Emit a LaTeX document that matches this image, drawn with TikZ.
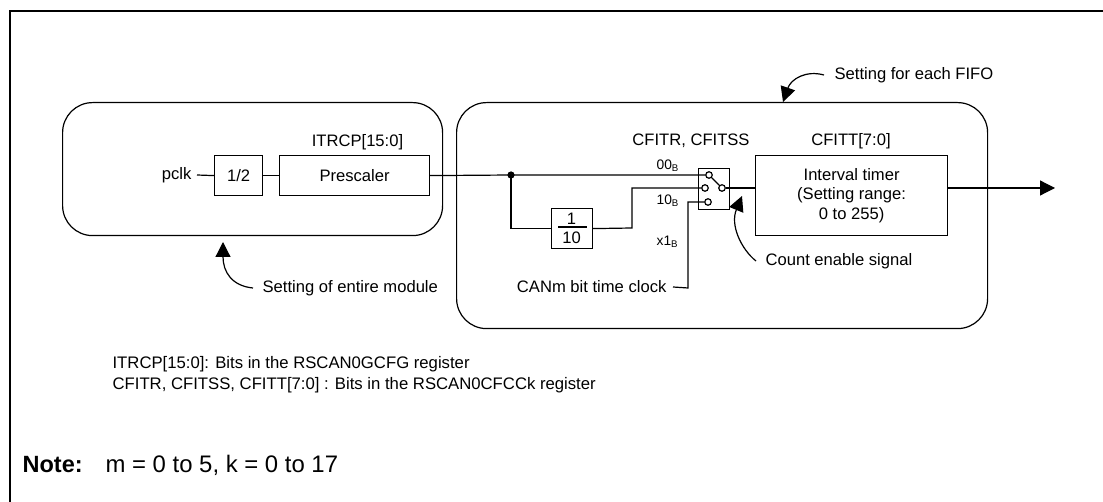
\documentclass[tikz,border=0pt]{standalone}
\usepackage{fontspec}
\setmainfont{Liberation Sans}
\usetikzlibrary{arrows.meta}
\tikzset{every picture/.style={line width=1.2pt}}
\tikzset{
  blob/.style={draw,rounded corners=30,inner sep=0pt},
  block/.style={draw,inner sep=0pt,align=center,font=\fontsize{16.6}{19.6}\selectfont},
  lbl/.style={inner sep=0pt,align=center,font=\fontsize{16.6}{19.6}\selectfont},
  sel/.style={inner sep=0pt,font=\fontsize{13.8}{16}\selectfont},
  notes/.style={inner sep=0pt,font=\fontsize{16.7}{20}\selectfont},
  contact/.style={draw,circle,fill=white,inner sep=0pt,minimum size=6.5pt},
  pointer/.style={-{Triangle[length=15pt,width=15pt]}},
}

\begin{document}
\begin{tikzpicture}[x=1pt,y=1pt,yscale=-1,xscale=1]
\useasboundingbox (0,0) rectangle (1103,502);

% Frame
\draw [line width=2.2pt] (10,502) -- (10,11) -- (1103,11) ;

% Rounded areas
\node (module) [blob,anchor=north west,minimum width=380pt,minimum height=133pt] at (62,102) {};
\node (fifo) [blob,anchor=north west,minimum width=531pt,minimum height=226pt] at (456,102) {};

% Blocks
\node (half) [block,anchor=north west,minimum width=48pt,minimum height=40pt] at (214,155) {1/2};
\node (presc) [block,anchor=north west,minimum width=150pt,minimum height=40pt] at (279,155) {Prescaler};
\node (div) [block,anchor=north west,minimum width=41pt,minimum height=40pt] at (551,208) {};
\node (switch) [block,anchor=north west,minimum width=31pt,minimum height=41pt] at (698,168) {};
\node (timer) [block,anchor=north west,minimum width=192pt,minimum height=80pt] at (755,155) {Interval timer\\(Setting range:\\0 to 255)};

% Text Node
\node (pclk) [lbl,anchor=east] at (192,175) {pclk};
\node (itrcp) [lbl] at (357.5,142) {ITRCP[15:0]};
\node (cfitr) [lbl] at (691,141) {CFITR, CFITSS};
\node (cfitt) [lbl] at (851,141) {CFITT[7:0]};
\node (divn) [lbl] at (571.5,219) {1};
\node (divd) [lbl] at (571.5,238) {10};
\node (can) [lbl,anchor=east] at (667,287) {CANm bit time clock};
\node (setmod) [lbl,anchor=west] at (262,288) {Setting of entire module};
\node (setfifo) [lbl,anchor=west] at (834,75) {Setting for each FIFO};
\node (count) [lbl,anchor=west] at (765,261) {Count enable signal};
\node (sel0) [sel,anchor=west] at (656,166) {00\textsubscript{B}};
\node (sel1) [sel,anchor=west] at (656,201) {10\textsubscript{B}};
\node (sel2) [sel,anchor=west] at (656,242) {x1\textsubscript{B}};
\node (bits1) [notes,anchor=west] at (112,364) {ITRCP[15:0]: Bits in the RSCAN0GCFG register};
\node (bits2) [notes,anchor=west] at (112,385) {CFITR, CFITSS, CFITT[7:0] : Bits in the RSCAN0CFCCk register};
\node (note) [anchor=west,inner sep=0pt,font=\fontsize{23.5}{27}\selectfont\bfseries] at (22,465) {Note:};
\node (range) [anchor=west,inner sep=0pt,font=\fontsize{23.9}{27}\selectfont] at (105,465) {m = 0 to 5, k = 0 to 17};

% Contacts
\node (sw0) [contact] at (709,175) {};
\node (sw1) [contact] at (705,188) {};
\node (sw2) [contact] at (708,202) {};
\node (swout) [contact] at (722,188) {};

% Free ends
\coordinate (junction) at (511,175);
\coordinate (kneediv) at (632,228);
\coordinate (kneecan) at (688,288);
\coordinate (exit) at (1055,188);
\coordinate (tipmod) at (223,242);
\coordinate (tipfifo) at (783,102);
\coordinate (tipcount) at (742,196);

% Straight Lines
\draw ([xshift=5pt]pclk.east) -- (half.west) ;
\draw (half.east) -- (presc.west) ;
\draw (presc.east) -- (junction) -- (sw0.west) ;
\draw (junction) |- (div.west) ;
\draw (div.east) -- (kneediv) |- (sw1.west) ;
\draw ([xshift=6pt]can.east) -- (kneecan) |- (sw2.west) ;
\draw (sw0.south east) -- (swout.north west) ;
\draw (swout.east) -- (swout.east -| timer.west) ;
\draw [pointer] (swout.east -| timer.east) -- (exit) ;
\draw (558,227) -- (587,227) ;
\fill (junction) circle [radius=3.6pt] ;

% Curve Lines
\draw [pointer] ([xshift=-9pt]setmod.west) .. controls (232,286) and (223,272) .. (tipmod) ;
\draw [pointer] ([xshift=-10pt]setfifo.west) .. controls (806,70) and (791,79) .. (tipfifo) ;
\draw [pointer] ([xshift=-9pt]count.west) .. controls (741,249) and (730,225) .. (tipcount) ;

\end{tikzpicture}
\end{document}
